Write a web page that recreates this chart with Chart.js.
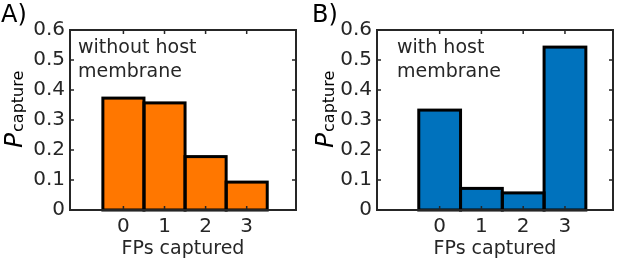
<!DOCTYPE html>
<html>
<head>
<meta charset="utf-8">
<script src="https://cdn.jsdelivr.net/npm/chart.js@4"></script>
<style>
  html, body { margin: 0; padding: 0; background: #fff; }
  #wrap { position: relative; width: 617px; height: 260px; }
  canvas { position: absolute; top: 0; }
</style>
</head>
<body>
<div id="wrap">
  <canvas id="chartA" width="308" height="260" style="left:0"></canvas>
  <canvas id="chartB" width="309" height="260" style="left:308px"></canvas>
</div>
<script>
// FPs captured per event, probability of capture
const fpCounts = [0, 1, 2, 3];
const withoutHost = [0.373, 0.357, 0.178, 0.093];
const withHost = [0.333, 0.072, 0.057, 0.543];
const yTicks = [0, 0.1, 0.2, 0.3, 0.4, 0.5, 0.6];

const ink = "#262626";
const font = "DejaVu Sans";

// box + inward ticks + centred bar outlines + texts, matlab style
const framePlugin = {
  id: "frame",
  afterDatasetsDraw(chart, args, o) {
    const { ctx, chartArea: a, scales } = chart;
    ctx.save();
    // bar edges, stroke centred on the bar outline
    ctx.strokeStyle = "#000";
    ctx.lineWidth = 3;
    chart.getDatasetMeta(0).data.forEach(el => {
      const p = el.getProps(["x", "y", "base", "width"], true);
      ctx.strokeRect(p.x - p.width / 2, p.y, p.width, p.base - p.y);
    });
    ctx.strokeStyle = ink;
    ctx.lineWidth = 2;
    ctx.strokeRect(a.left, a.top, a.right - a.left, a.bottom - a.top);
    ctx.lineWidth = 1.5;
    ctx.beginPath();
    fpCounts.forEach(v => {
      const x = scales.x.getPixelForValue(v);
      ctx.moveTo(x, a.bottom); ctx.lineTo(x, a.bottom - 4);
      ctx.moveTo(x, a.top); ctx.lineTo(x, a.top + 4);
    });
    yTicks.forEach(v => {
      const y = scales.y.getPixelForValue(v);
      ctx.moveTo(a.left, y); ctx.lineTo(a.left + 4, y);
      ctx.moveTo(a.right, y); ctx.lineTo(a.right - 4, y);
    });
    ctx.stroke();
    ctx.restore();
  },
  afterDraw(chart, args, o) {
    const { ctx, chartArea: a } = chart;
    ctx.save();
    ctx.fillStyle = ink;
    ctx.textBaseline = "alphabetic";
    // annotation
    ctx.font = "19px '" + font + "'";
    o.note.forEach((t, i) => ctx.fillText(t, a.left + o.noteDx, 53 + i * 24));
    // panel letter
    ctx.fillStyle = "#000";
    ctx.font = "24px '" + font + "'";
    ctx.fillText(o.letter, o.letterX, 22);
    // y title: italic P with subscript
    ctx.translate(o.titleX, 148);
    ctx.rotate(-Math.PI / 2);
    ctx.font = "italic 25px '" + font + "'";
    ctx.fillText("P", 0, 0);
    const w = ctx.measureText("P").width;
    ctx.font = "16px '" + font + "'";
    ctx.fillText("capture", w + 1, 1);
    ctx.restore();
  }
};

function makeChart(id, values, color, opts) {
  return new Chart(document.getElementById(id), {
    type: "bar",
    data: {
      datasets: [{
        data: fpCounts.map((c, i) => ({ x: c, y: values[i] })),
        backgroundColor: color,
        borderWidth: 0,
        barPercentage: 1,
        categoryPercentage: 1
      }]
    },
    options: {
      responsive: false,
      animation: false,
      layout: { padding: { left: 0, right: opts.padRight, top: 30, bottom: 0 } },
      plugins: {
        legend: { display: false },
        tooltip: { enabled: false },
        frame: opts
      },
      scales: {
        x: {
          type: "linear",
          offset: false,
          min: opts.xMin,
          max: opts.xMax,
          grid: { display: false, drawTicks: false },
          border: { display: false },
          afterBuildTicks: s => { s.ticks = fpCounts.map(v => ({ value: v })); },
          afterFit: s => { s.height = 50; },
          ticks: { color: ink, font: { family: font, size: 20 }, padding: 5, maxRotation: 0 },
          title: { display: true, text: "FPs captured", color: ink, font: { family: font, size: 19 }, padding: 0 }
        },
        y: {
          min: 0,
          max: 0.6,
          grid: { display: false, drawTicks: false },
          border: { display: false },
          afterBuildTicks: s => { s.ticks = yTicks.map(v => ({ value: v })); },
          afterFit: s => { s.width = opts.yWidth; },
          ticks: {
            color: ink,
            font: { family: font, size: 20 },
            padding: 5,
            callback: v => v === 0 ? "0" : v.toFixed(1)
          }
        }
      }
    },
    plugins: [framePlugin]
  });
}

makeChart("chartA", withoutHost, "#ff7700", {
  xMin: -1.3, xMax: 4.2, padRight: 12, yWidth: 70,
  note: ["without host", "membrane"], noteDx: 8,
  letter: "A)", letterX: 1, titleX: 22
});
makeChart("chartB", withHost, "#0072bd", {
  xMin: -1.5, xMax: 4.15, padRight: 4, yWidth: 69,
  note: ["with host", "membrane"], noteDx: 20,
  letter: "B)", letterX: 4, titleX: 25
});
</script>
</body>
</html>
